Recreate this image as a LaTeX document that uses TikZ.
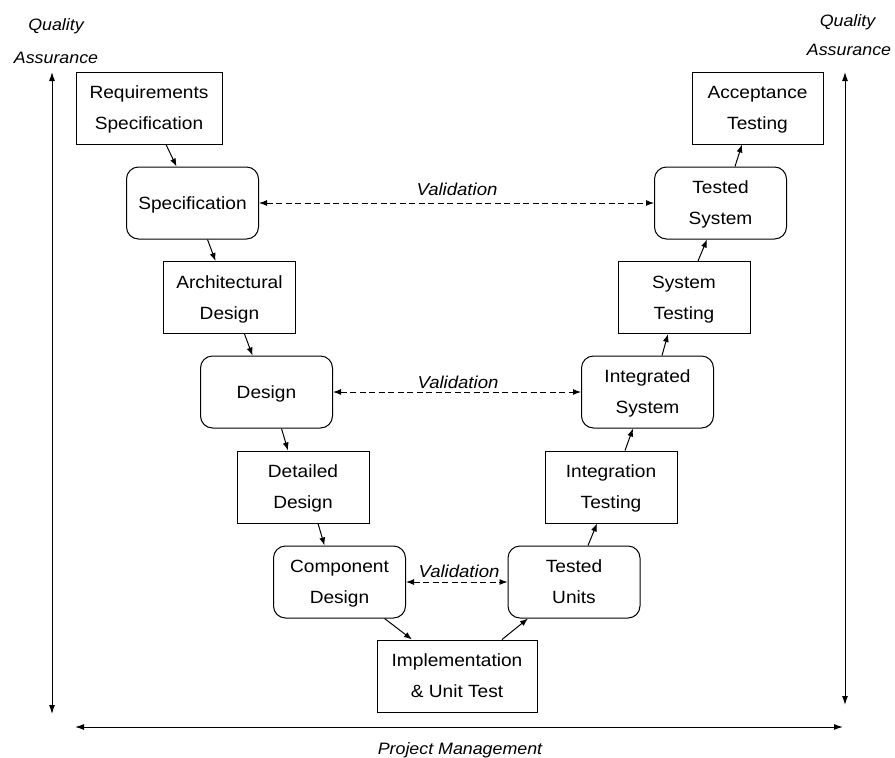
\documentclass[tikz,border=0pt]{standalone}
\usepackage{fontspec}
\setmainfont{Liberation Sans}[FakeStretch=1.08]
\usetikzlibrary{arrows.meta,calc}
\begin{document}
\begin{tikzpicture}[x=1pt,y=-1pt,
  phase/.style={draw,line width=1pt,minimum width=132pt,minimum height=72pt,
    inner sep=0pt,align=center,text depth=0pt,font=\fontsize{17.7}{31}\selectfont},
  product/.style={phase,rounded corners=12pt},
  flow/.style={line width=1pt,-{Latex[length=8pt,width=6pt]}},
  check/.style={line width=1pt,dash pattern=on 6pt off 3.5pt,
    {Latex[length=8pt,width=6pt]}-{Latex[length=8pt,width=6pt]}},
  span/.style={line width=1pt,{Latex[length=9pt,width=6pt]}-{Latex[length=9pt,width=6pt]}},
  tag/.style={font=\itshape\fontsize{16.5}{16.5}\selectfont,inner sep=0pt,anchor=base},
  vtag/.style={tag,font=\itshape\fontsize{17.2}{17.2}\selectfont}
]
\useasboundingbox (0,0) rectangle (895,758);

% left arm: specification and design phases
\node[phase,minimum width=146pt] (req) at (149,108) {Requirements\\Specification};
\node[product] (spec) at (192.5,203) {Specification};
\node[phase] (arch) at (229.5,297.5) {Architectural\\Design};
\node[product] (des) at (266.5,392) {Design};
\node[phase] (det) at (303,487) {Detailed\\Design};
\node[product] (comp) at (339.5,582) {Component\\Design};
% bottom of the V
\node[phase,minimum width=160pt] (impl) at (457,676) {Implementation\\\& Unit Test};
% right arm: testing phases
\node[product] (tu) at (574,582) {Tested\\Units};
\node[phase] (intt) at (611,487) {Integration\\Testing};
\node[product] (ints) at (647.5,392) {Integrated\\System};
\node[phase] (syst) at (684,297.5) {System\\Testing};
\node[product] (tsys) at (720.5,203) {Tested\\System};
\node[phase,minimum width=131pt] (acc) at (757.5,108) {Acceptance\\Testing};

% flow down the left arm
\draw[flow] ($(req.south)+(17,0)$) -- ($(spec.north)+(-16,0)$);
\draw[flow] ($(spec.south)+(15,0)$) -- ($(arch.north)+(-14,0)$);
\draw[flow] ($(arch.south)+(15,0)$) -- ($(des.north)+(-14,0)$);
\draw[flow] ($(des.south)+(15,0)$) -- ($(det.north)+(-15,0)$);
\draw[flow] ($(det.south)+(15,0)$) -- ($(comp.north)+(-15,0)$);
\draw[flow] ($(comp.south)+(45,0)$) -- ($(impl.north)+(-45,0)$);
% flow up the right arm
\draw[flow] ($(impl.north)+(45,0)$) -- ($(tu.south)+(-46,0)$);
\draw[flow] ($(tu.north)+(14,0)$) -- ($(intt.south)+(-14,0)$);
\draw[flow] ($(intt.north)+(14,0)$) -- ($(ints.south)+(-14.5,0)$);
\draw[flow] ($(ints.north)+(14.5,0)$) -- ($(syst.south)+(-16,0)$);
\draw[flow] ($(syst.north)+(14,0)$) -- ($(tsys.south)+(-13.5,0)$);
\draw[flow] ($(tsys.north)+(14.5,0)$) -- ($(acc.south)+(-15.5,0)$);

% validation links across the V
\draw[check] (spec.east) -- (tsys.west);
\draw[check] (des.east) -- (ints.west);
\draw[check] (comp.east) -- (tu.west);
\node[vtag] (v1) at (457,195) {Validation};
\node[vtag] (v2) at (458,388) {Validation};
\node[vtag] (v3) at (459,577) {Validation};

% quality assurance and project management spans
\coordinate (qal1) at (52,72);
\coordinate (qal2) at (52,714);
\coordinate (qar1) at (845,72);
\coordinate (qar2) at (845,705);
\coordinate (pm1) at (75,727);
\coordinate (pm2) at (843,727);
\draw[span] (qal1) -- (qal2);
\draw[span] (qar1) -- (qar2);
\draw[span] (pm1) -- (pm2);
\node[tag] (ql1) at (56,30) {Quality};
\node[tag] (ql2) at (56,63) {Assurance};
\node[tag] (qr1) at (847.5,26) {Quality};
\node[tag] (qr2) at (849,55) {Assurance};
\node[tag] (pm) at (460,754) {Project Management};
\end{tikzpicture}
\end{document}
